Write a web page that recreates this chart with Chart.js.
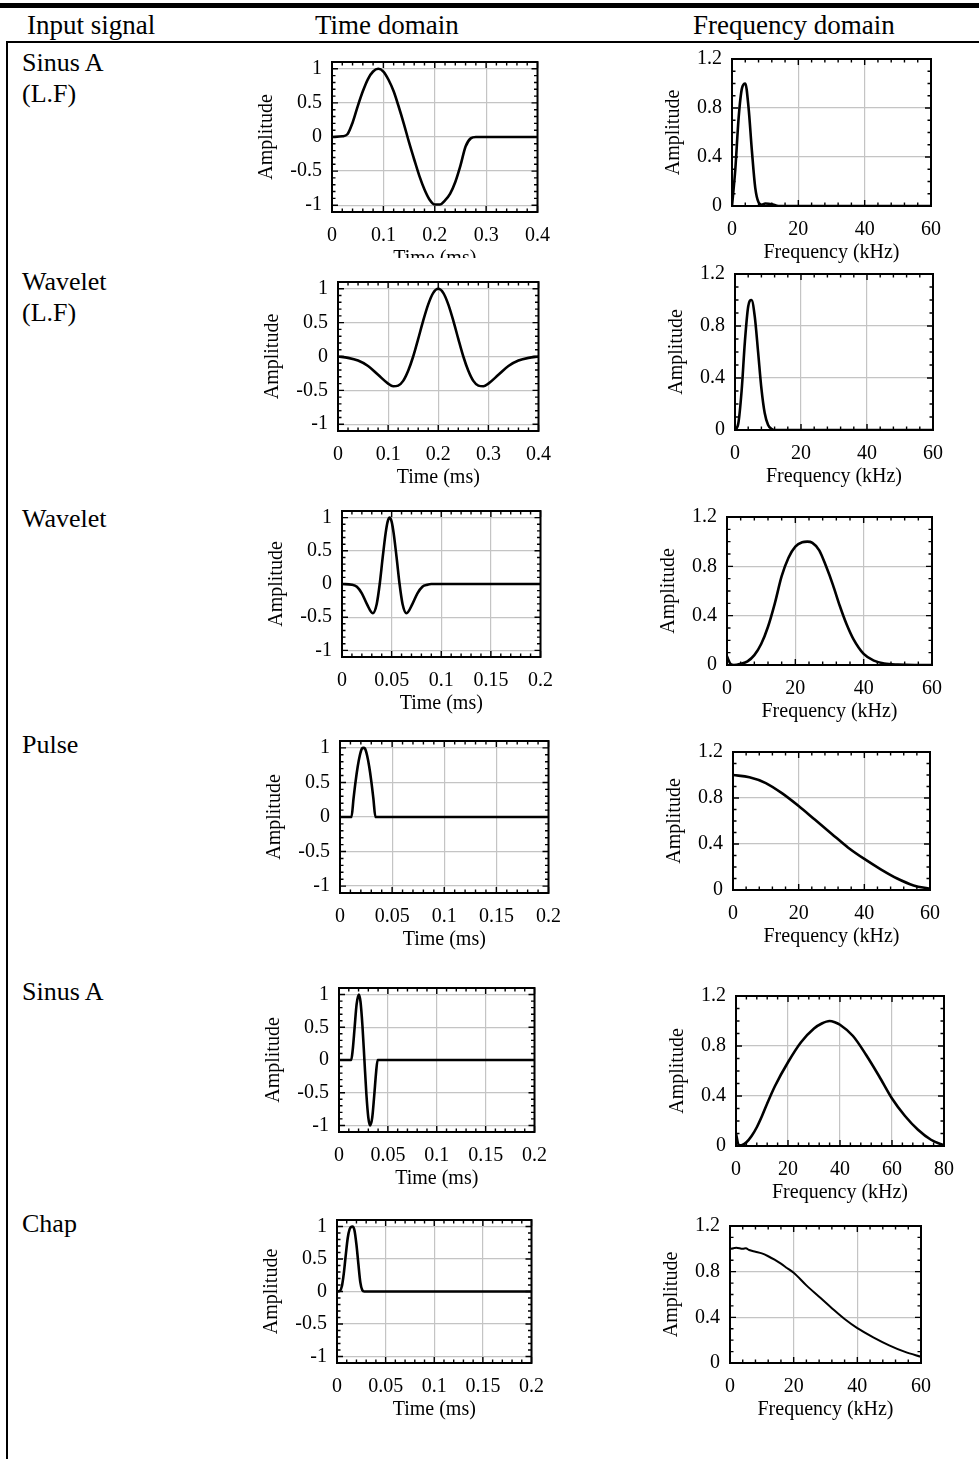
<!DOCTYPE html>
<html>
<head>
<meta charset="utf-8">
<title>Input signals - time and frequency domain</title>
<script src="https://cdn.jsdelivr.net/npm/chart.js@4"></script>
<style>
  html, body { margin: 0; padding: 0; background: #fff; }
  body { width: 979px; height: 1459px; position: relative; overflow: hidden;
         font-family: "Liberation Serif", "Times New Roman", serif; color: #000; }
  .rule { position: absolute; background: #000; }
  .head { position: absolute; top: 10px; font-size: 27px; line-height: 30px; white-space: nowrap; }
  .sig { position: absolute; left: 22px; font-size: 26px; line-height: 31px; white-space: nowrap; }
  .plot { position: absolute; overflow: hidden; }
  .plot > div { position: absolute; left: 0; top: 0; }
</style>
</head>
<body>

<div class="rule" style="left:0; top:3px; width:979px; height:5px;"></div>
<div class="rule" style="left:6px; top:41px; width:973px; height:2px;"></div>
<div class="rule" style="left:6px; top:41px; width:2px; height:1418px;"></div>

<div class="head" style="left:27px;">Input signal</div>
<div class="head" style="left:315px;">Time domain</div>
<div class="head" style="left:693px;">Frequency domain</div>

<div class="sig" style="top:47px;">Sinus A<br>(L.F)</div>
<div class="sig" style="top:266px;">Wavelet<br>(L.F)</div>
<div class="sig" style="top:503px;">Wavelet</div>
<div class="sig" style="top:729px;">Pulse</div>
<div class="sig" style="top:976px;">Sinus A</div>
<div class="sig" style="top:1208px;">Chap</div>

<div id="panels"></div>

<script>
// ---------------- data ----------------
// time axis in ms, frequency axis in kHz, amplitudes normalised

// Sinus A (L.F)
const sinusLfT = [0, 0.02, 0.03, 0.04, 0.05, 0.06, 0.07, 0.08, 0.09, 0.10, 0.11, 0.12, 0.13, 0.14, 0.15, 0.16, 0.17, 0.18, 0.19, 0.20, 0.21, 0.22, 0.23, 0.24, 0.25, 0.26, 0.27, 0.28, 0.40];
const sinusLfA = [0, 0.01, 0.04, 0.21, 0.45, 0.67, 0.85, 0.96, 1.0, 0.96, 0.84, 0.67, 0.44, 0.19, -0.08, -0.33, -0.57, -0.77, -0.92, -0.99, -0.99, -0.93, -0.83, -0.66, -0.42, -0.14, -0.02, 0, 0];
const sinusLfF = [0, 1, 2, 3, 4, 5, 6, 7, 8, 9, 10, 12, 14, 60];
const sinusLfS = [0, 0.3, 0.72, 0.96, 1.0, 0.8, 0.45, 0.15, 0.03, 0.01, 0.02, 0.015, 0, 0];

// Wavelet (L.F)
const waveLfT = [0, 0.02, 0.04, 0.06, 0.08, 0.10, 0.11, 0.12, 0.13, 0.14, 0.15, 0.16, 0.17, 0.18, 0.19, 0.20, 0.21, 0.22, 0.23, 0.24, 0.25, 0.26, 0.27, 0.28, 0.29, 0.30, 0.32, 0.34, 0.36, 0.38, 0.40];
const waveLfA = [0, -0.02, -0.06, -0.14, -0.27, -0.4, -0.44, -0.43, -0.36, -0.21, 0, 0.26, 0.53, 0.77, 0.94, 1.0, 0.94, 0.77, 0.53, 0.26, 0, -0.21, -0.36, -0.43, -0.44, -0.4, -0.27, -0.14, -0.06, -0.02, 0];
const waveLfF = [0, 1, 2, 3, 4, 5, 6, 7, 8, 9, 10, 11, 12, 60];
const waveLfS = [0, 0.05, 0.3, 0.68, 0.95, 1.0, 0.87, 0.6, 0.32, 0.13, 0.04, 0.01, 0, 0];

// Wavelet
const waveT = [0, 0.01, 0.015, 0.02, 0.025, 0.031, 0.035, 0.038, 0.041, 0.044, 0.046, 0.048, 0.050, 0.052, 0.055, 0.058, 0.061, 0.065, 0.071, 0.076, 0.081, 0.086, 0.09, 0.2];
const waveA = [0, -0.01, -0.04, -0.14, -0.3, -0.44, -0.3, 0, 0.4, 0.77, 0.94, 1.0, 0.94, 0.77, 0.4, 0, -0.3, -0.44, -0.3, -0.14, -0.04, -0.01, 0, 0];
const waveF = [0, 1, 2, 4, 6, 8, 10, 12, 14, 16, 18, 20, 22, 23.5, 25, 27, 29, 31, 33, 35, 37, 40, 43, 46, 50, 55, 60];
const waveS = [0.07, 0.01, 0, 0.01, 0.03, 0.08, 0.17, 0.31, 0.5, 0.72, 0.87, 0.96, 0.995, 1.0, 0.99, 0.93, 0.8, 0.65, 0.48, 0.33, 0.21, 0.09, 0.035, 0.012, 0.003, 0, 0];

// Pulse
const pulseT = [0, 0.011, 0.013, 0.015, 0.017, 0.019, 0.021, 0.0225, 0.024, 0.026, 0.028, 0.030, 0.032, 0.034, 0.2];
const pulseA = [0, 0, 0.27, 0.52, 0.73, 0.89, 0.99, 1.0, 0.99, 0.89, 0.73, 0.52, 0.27, 0, 0];
const pulseF = [0, 5, 10, 15, 20, 25, 30, 35, 40, 45, 50, 55, 60];
const pulseS = [1.0, 0.98, 0.93, 0.84, 0.73, 0.61, 0.49, 0.37, 0.27, 0.18, 0.1, 0.04, 0.01];

// Sinus A
const sinusT = [0, 0.0125, 0.014, 0.016, 0.018, 0.0203, 0.022, 0.024, 0.026, 0.028, 0.030, 0.0318, 0.034, 0.036, 0.038, 0.0395, 0.2];
const sinusA = [0, 0, 0.15, 0.5, 0.85, 1.0, 0.89, 0.52, 0, -0.52, -0.88, -1.0, -0.88, -0.55, -0.18, 0, 0];
const sinusF = [0, 1, 2, 4, 6, 8, 10, 12, 15, 20, 25, 30, 33, 36, 38, 40, 45, 50, 55, 60, 65, 70, 75, 80];
const sinusS = [0.1, 0.01, 0.005, 0.03, 0.08, 0.15, 0.24, 0.34, 0.48, 0.67, 0.83, 0.94, 0.98, 1.0, 0.99, 0.97, 0.88, 0.73, 0.56, 0.38, 0.24, 0.13, 0.05, 0.005];

// Chap
const chapT = [0, 0.003, 0.005, 0.007, 0.009, 0.011, 0.013, 0.0159, 0.018, 0.020, 0.022, 0.024, 0.026, 0.028, 0.2];
const chapA = [0, 0.01, 0.08, 0.28, 0.56, 0.82, 0.96, 1.0, 0.94, 0.72, 0.42, 0.14, 0.02, 0, 0];
const chapF = [0, 2, 4, 5, 6, 8, 10, 12, 14, 16, 18, 20, 24, 28, 32, 36, 40, 45, 50, 55, 60];
const chapS = [1.0, 1.01, 1.0, 1.005, 0.99, 0.975, 0.96, 0.935, 0.905, 0.87, 0.83, 0.79, 0.68, 0.58, 0.48, 0.385, 0.305, 0.225, 0.155, 0.097, 0.055];

// tick labels
const ampTicks = [-1, -0.5, 0, 0.5, 1];
const specTicks = [0, 0.4, 0.8, 1.2];
const timeTicksLong = [0, 0.1, 0.2, 0.3, 0.4];
const timeTicksShort = [0, 0.05, 0.1, 0.15, 0.2];
const freqTicks60 = [0, 20, 40, 60];
const freqTicks80 = [0, 20, 40, 60, 80];

// ---------------- layout ----------------
const YW = 80, PT = 16, PR = 22, XH = 64;

// plot box: [left, top, width, height] of the framed area
const panels = [
  { box: [332, 56, 208, 156], t: sinusLfT, a: sinusLfA, kind: 'time', xt: timeTicksLong, clip: 258 },
  { box: [732, 53, 199, 153], t: sinusLfF, a: sinusLfS, kind: 'freq', xt: freqTicks60 },
  { box: [338, 276, 203, 155], t: waveLfT, a: waveLfA, kind: 'time', xt: timeTicksLong },
  { box: [735, 268, 198, 162], t: waveLfF, a: waveLfS, kind: 'freq', xt: freqTicks60 },
  { box: [342, 505, 201, 152], t: waveT, a: waveA, kind: 'time', xt: timeTicksShort },
  { box: [727, 511, 205, 154], t: waveF, a: waveS, kind: 'freq', xt: freqTicks60 },
  { box: [340, 735, 211, 158], t: pulseT, a: pulseA, kind: 'time', xt: timeTicksShort },
  { box: [733, 746, 197, 144], t: pulseF, a: pulseS, kind: 'freq', xt: freqTicks60 },
  { box: [339, 982, 198, 150], t: sinusT, a: sinusA, kind: 'time', xt: timeTicksShort },
  { box: [736, 990, 208, 156], t: sinusF, a: sinusS, kind: 'freq', xt: freqTicks80 },
  { box: [337, 1214, 197, 149], t: chapT, a: chapA, kind: 'time', xt: timeTicksShort },
  { box: [730, 1220, 191, 143], t: chapF, a: chapS, kind: 'freq', xt: freqTicks60, lw: 2 }
];

// frame with inward major/minor ticks on all four sides
const frameTicks = {
  id: 'frameTicks',
  afterDatasetsDraw(chart, args, o) {
    const { ctx, chartArea: a, scales: { x, y } } = chart;
    const steps = (min, max, step) => {
      const out = [];
      for (let i = Math.ceil(min / step - 1e-6); i * step <= max + 1e-9; i++) out.push(i * step);
      return out;
    };
    const isMajor = (v, list) => list.some(m => Math.abs(m - v) < 1e-6);
    ctx.save();
    ctx.strokeStyle = '#000';
    ctx.lineWidth = 1.4;
    ctx.beginPath();
    steps(x.min, x.max, o.xMinor).forEach(v => {
      const px = x.getPixelForValue(v);
      const len = isMajor(v, o.xMajor) ? 6 : 3.5;
      ctx.moveTo(px, a.bottom); ctx.lineTo(px, a.bottom - len);
      ctx.moveTo(px, a.top); ctx.lineTo(px, a.top + len);
    });
    steps(y.min, y.max, o.yMinor).forEach(v => {
      const py = y.getPixelForValue(v);
      const len = isMajor(v, o.yMajor) ? 6 : 3.5;
      ctx.moveTo(a.left, py); ctx.lineTo(a.left + len, py);
      ctx.moveTo(a.right, py); ctx.lineTo(a.right - len, py);
    });
    ctx.stroke();
    ctx.lineWidth = 2;
    ctx.strokeRect(a.left, a.top, a.right - a.left, a.bottom - a.top);
    ctx.restore();
  }
};

Chart.defaults.font.family = '"Liberation Serif", "Times New Roman", serif';
Chart.defaults.font.size = 20;
Chart.defaults.color = '#000';

const host = document.getElementById('panels');

panels.forEach((p, i) => {
  const [L, T, W, H] = p.box;
  const full = { w: YW + W + PR, h: PT + H + XH };
  const outer = document.createElement('div');
  outer.className = 'plot';
  outer.style.left = (L - YW) + 'px';
  outer.style.top = (T - PT) + 'px';
  outer.style.width = full.w + 'px';
  outer.style.height = (p.clip ? Math.min(full.h, p.clip - (T - PT)) : full.h) + 'px';
  const inner = document.createElement('div');
  inner.style.width = full.w + 'px';
  inner.style.height = full.h + 'px';
  const canvas = document.createElement('canvas');
  canvas.id = 'chart' + i;
  inner.appendChild(canvas);
  outer.appendChild(inner);
  host.appendChild(outer);

  const isTime = p.kind === 'time';
  const xMax = p.xt[p.xt.length - 1];
  const yTicks = isTime ? ampTicks : specTicks;

  new Chart(canvas, {
    type: 'line',
    data: {
      datasets: [{
        data: p.t.map((v, k) => ({ x: v, y: p.a[k] })),
        borderColor: '#000',
        borderWidth: p.lw || 2.6,
        pointRadius: 0,
        fill: false,
        cubicInterpolationMode: 'monotone'
      }]
    },
    options: {
      animation: false,
      responsive: true,
      maintainAspectRatio: false,
      layout: { padding: { top: PT, right: PR, left: 0, bottom: 0 } },
      plugins: {
        legend: { display: false },
        tooltip: { enabled: false },
        frameTicks: {
          xMajor: p.xt, xMinor: (p.xt[1] - p.xt[0]) / 5,
          yMajor: yTicks, yMinor: 0.1
        }
      },
      scales: {
        x: {
          type: 'linear',
          min: 0,
          max: xMax,
          afterBuildTicks: s => { s.ticks = p.xt.map(v => ({ value: v })); },
          afterFit: s => { s.height = XH; },
          ticks: { padding: 12, maxRotation: 0, autoSkip: false, callback: v => String(v) },
          grid: { color: '#c4c4c4', lineWidth: 1.2, drawTicks: false },
          border: { display: false },
          title: { display: true, text: isTime ? 'Time (ms)' : 'Frequency (kHz)', padding: { top: 0, bottom: 5 } }
        },
        y: {
          min: isTime ? -1.1 : 0,
          max: isTime ? 1.1 : 1.2,
          afterBuildTicks: s => { s.ticks = yTicks.map(v => ({ value: v })); },
          afterFit: s => { s.width = YW; },
          ticks: { padding: 10, autoSkip: false, callback: v => String(v) },
          grid: { color: '#c4c4c4', lineWidth: 1.2, drawTicks: false },
          border: { display: false },
          title: { display: true, text: 'Amplitude', padding: { top: isTime ? 3 : 10, bottom: 0 } }
        }
      }
    },
    plugins: [frameTicks]
  });
});
</script>
</body>
</html>
